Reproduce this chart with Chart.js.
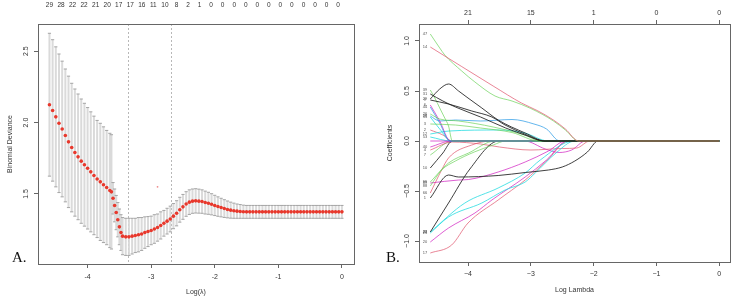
<!DOCTYPE html>
<html>
<head>
<meta charset="utf-8">
<script src="https://cdn.jsdelivr.net/npm/chart.js@4.4.0/dist/chart.umd.min.js"></script>
<style>
  body { margin: 0; background: #fff; width: 744px; height: 304px; position: relative; overflow: hidden; }
  canvas { position: absolute; top: 0; }
  #cvA { left: 0; }
  #cvB { left: 372px; }
  .tag { position: absolute; font: 15px "Liberation Serif", "DejaVu Serif", serif; line-height: 15px; color: #111; }
</style>
</head>
<body>
<canvas id="cvA" width="372" height="304"></canvas>
<canvas id="cvB" width="372" height="304"></canvas>
<div class="tag" style="left:12px;top:250px">A.</div>
<div class="tag" style="left:386px;top:250px">B.</div>
<script>
// ---- panel A: cross-validation curve ----
const logLambdaA = [
  -4.60, -4.55, -4.50, -4.45, -4.40, -4.35, -4.30, -4.25, -4.20, -4.15,
  -4.10, -4.05, -4.00, -3.95, -3.90, -3.85, -3.80, -3.75, -3.70, -3.65,
  -3.625, -3.60, -3.575, -3.55, -3.525, -3.50, -3.475, -3.45,
  -3.40, -3.35, -3.30, -3.25, -3.20, -3.15, -3.10, -3.05, -3.00, -2.95,
  -2.90, -2.85, -2.80, -2.75, -2.70, -2.65, -2.60, -2.55, -2.50, -2.45,
  -2.40, -2.35, -2.30, -2.25, -2.20, -2.15, -2.10, -2.05, -2.00, -1.95,
  -1.90, -1.85, -1.80, -1.75, -1.70, -1.65, -1.60, -1.55,
  -1.50, -1.45, -1.40, -1.35, -1.30, -1.25, -1.20, -1.15, -1.10, -1.05,
  -1.00, -0.95, -0.90, -0.85, -0.80, -0.75, -0.70, -0.65, -0.60, -0.55,
  -0.50, -0.45, -0.40, -0.35, -0.30, -0.25, -0.20, -0.15, -0.10, -0.05, 0.00
];
const cvMean = [
  2.125, 2.085, 2.04, 1.995, 1.955, 1.91, 1.865, 1.825, 1.79, 1.76,
  1.73, 1.705, 1.68, 1.655, 1.63, 1.605, 1.585, 1.565, 1.545, 1.525,
  1.515, 1.47, 1.42, 1.37, 1.32, 1.27, 1.23, 1.205,
  1.20, 1.20, 1.205, 1.21, 1.215, 1.22, 1.23, 1.237, 1.245, 1.255,
  1.265, 1.28, 1.295, 1.31, 1.325, 1.345, 1.365, 1.39, 1.41, 1.43,
  1.443, 1.45, 1.452, 1.45, 1.447, 1.44, 1.435, 1.428, 1.42, 1.412,
  1.405, 1.398, 1.392, 1.387, 1.383, 1.38, 1.378, 1.376,
  1.375, 1.375, 1.375, 1.375, 1.375, 1.375, 1.375, 1.375, 1.375, 1.375,
  1.375, 1.375, 1.375, 1.375, 1.375, 1.375, 1.375, 1.375, 1.375, 1.375,
  1.375, 1.375, 1.375, 1.375, 1.375, 1.375, 1.375, 1.375, 1.375, 1.375, 1.375
];
const cvSd = [
  0.50, 0.495, 0.49, 0.485, 0.475, 0.465, 0.46, 0.45, 0.445, 0.44,
  0.435, 0.43, 0.425, 0.42, 0.415, 0.41, 0.41, 0.405, 0.40, 0.40,
  0.40, 0.11, 0.115, 0.12, 0.12, 0.125, 0.125, 0.13,
  0.13, 0.13, 0.125, 0.12, 0.12, 0.115, 0.11, 0.105, 0.10, 0.10,
  0.095, 0.095, 0.09, 0.09, 0.09, 0.088, 0.088, 0.087, 0.087, 0.086,
  0.086, 0.085, 0.085, 0.084, 0.082, 0.08, 0.077, 0.074, 0.071, 0.068,
  0.065, 0.062, 0.059, 0.056, 0.053, 0.05, 0.048, 0.046,
  0.045, 0.045, 0.045, 0.045, 0.045, 0.045, 0.045, 0.045, 0.045, 0.045,
  0.045, 0.045, 0.045, 0.045, 0.045, 0.045, 0.045, 0.045, 0.045, 0.045,
  0.045, 0.045, 0.045, 0.045, 0.045, 0.045, 0.045, 0.045, 0.045, 0.045, 0.045
];
const nonzeroLabels = ['29', '28', '22', '22', '21', '20', '17', '17', '16', '11', '10', '8', '2', '1',
  '0', '0', '0', '0', '0', '0', '0', '0', '0', '0', '0', '0'];
const lambdaMin = -3.37;
const lambda1se = -2.69;
const strayPoint = [{ x: -2.9, y: 1.55 }];
const xTicks = [-4, -3, -2, -1, 0];
const yTicksA = [1.5, 2.0, 2.5];

// ---- panel B: coefficient paths ----
const topLabelsB = ['21', '15', '1', '0', '0'];
const yTicksB = [-1.0, -0.5, 0.0, 0.5, 1.0];
const coefPaths = [
  [[-4.6, 0.94], [-3.6, 0.55], [-3.15, 0.38], [-2.9, 0.305], [-2.64, 0.21], [-2.45, 0.12], [-2.24, 0], [0, 0]],
  [[-4.6, 1.07], [-4.45, 0.93], [-4.37, 0.86], [-4.1, 0.70], [-3.89, 0.59], [-3.57, 0.45], [-3.3, 0.40], [-3.0, 0.325], [-2.64, 0.2], [-2.45, 0.11], [-2.24, 0], [0, 0]],
  [[-4.6, 0.42], [-4.45, 0.52], [-4.31, 0.57], [-4.15, 0.50], [-4.0, 0.43], [-3.78, 0.33], [-3.52, 0.21], [-3.09, 0.08], [-2.77, 0], [0, 0]],
  [[-4.6, 0.47], [-4.4, 0.40], [-4.2, 0.34], [-3.8, 0.24], [-3.4, 0.13], [-3.05, 0.05], [-2.8, 0], [0, 0]],
  [[-4.6, 0.41], [-4.31, 0.37], [-3.94, 0.30], [-3.62, 0.24], [-3.41, 0.16], [-3.1, 0.07], [-2.78, 0], [0, 0]],
  [[-4.6, 0.51], [-4.52, 0.42], [-4.45, 0.33], [-4.37, 0.23], [-4.31, 0.15], [-4.25, 0], [0, 0]],
  [[-4.6, 0.17], [-4.2, 0.16], [-3.8, 0.13], [-3.3, 0.085], [-2.87, 0], [0, 0]],
  [[-4.6, 0.27], [-4.45, 0.22], [-4.15, 0.20], [-3.6, 0.14], [-3.1, 0.06], [-2.85, 0], [0, 0]],
  [[-4.6, 0.34], [-4.45, 0.18], [-4.29, 0], [0, 0]],
  [[-4.6, 0.36], [-4.45, 0.2], [-4.28, 0], [0, 0]],
  [[-4.6, 0.24], [-4.45, 0.12], [-4.27, 0], [0, 0]],
  [[-4.6, 0.25], [-4.45, 0.20], [-4.2, 0.21], [-3.8, 0.20], [-3.3, 0.215], [-2.95, 0.17], [-2.75, 0.12], [-2.54, 0], [0, 0]],
  [[-4.6, 0.07], [-4.3, 0.10], [-3.5, 0.11], [-3.1, 0.08], [-2.72, 0], [0, 0]],
  [[-4.6, 0.11], [-4.4, 0.06], [-4.25, 0], [0, 0]],
  [[-4.6, -0.06], [-4.26, 0], [0, 0]],
  [[-4.6, -0.27], [-4.4, -0.12], [-4.25, 0], [0, 0]],
  [[-4.6, -0.41], [-4.31, -0.22], [-3.99, -0.12], [-3.57, 0], [0, 0]],
  [[-4.6, -0.45], [-4.42, -0.29], [-4.2, -0.2], [-3.9, -0.11], [-3.6, -0.04], [-3.4, 0], [0, 0]],
  [[-4.6, -0.52], [-4.42, -0.29], [-4.31, -0.17], [-3.94, -0.04], [-3.62, 0], [0, 0]],
  [[-4.6, -0.91], [-4.31, -0.62], [-3.97, -0.28], [-3.51, 0], [0, 0]],
  [[-4.6, -0.57], [-4.31, -0.34], [-4.15, -0.36], [-3.52, -0.345], [-3.09, -0.315], [-2.72, -0.29], [-2.5, -0.26], [-2.3, -0.2], [-2.1, -0.11], [-1.93, 0], [0, 0]],
  [[-4.6, -0.42], [-4.15, -0.39], [-3.99, -0.385], [-3.52, -0.31], [-3.09, -0.21], [-2.72, -0.1], [-2.45, 0], [0, 0]],
  [[-4.6, -0.91], [-4.05, -0.62], [-3.52, -0.47], [-3.09, -0.32], [-2.85, -0.19], [-2.32, 0], [0, 0]],
  [[-4.6, -0.92], [-4.31, -0.76], [-3.78, -0.62], [-3.41, -0.49], [-3.09, -0.41], [-2.93, -0.32], [-2.6, -0.12], [-2.3, 0], [0, 0]],
  [[-4.6, -1.01], [-4.31, -0.87], [-3.89, -0.72], [-3.62, -0.59], [-3.09, -0.36], [-2.75, -0.19], [-2.42, 0], [0, 0]],
  [[-4.6, -1.12], [-4.26, -1.04], [-4.0, -0.82], [-3.52, -0.59], [-3.09, -0.39], [-2.75, -0.2], [-2.4, 0], [0, 0]],
  [[-4.6, -0.09], [-4.25, -0.01], [-3.8, -0.03], [-3.5, -0.06], [-3.0, -0.09], [-2.5, -0.075], [-2.27, -0.07], [-2.06, 0], [0, 0]],
  [[-4.6, 0], [-3.1, 0], [-2.77, -0.08], [-2.55, -0.115], [-2.35, -0.09], [-2.13, 0], [0, 0]],
  [[-4.6, -0.14], [-4.25, 0], [0, 0]],
  [[-4.6, 0.04], [-4.27, 0], [0, 0]]
];
const pathLabels = ['14', '47', '29', '31', '9', '39', '3', '26', '44', '6', '35', '28', '12', '2', '40',
  '10', '99', '88', '66', '23', '1', '89', '22', '25', '20', '17', '4', '', '7', '53'];

// R-like palette, a bit washed out like the scan
const BLACK = 'rgba(30,30,30,0.85)';
const PINK = 'rgba(223,83,107,0.7)';
const GREEN = 'rgba(97,208,79,0.65)';
const BLUE = 'rgba(34,151,230,0.7)';
const CYAN = 'rgba(40,220,225,0.8)';
const MAGENTA = 'rgba(205,11,188,0.65)';
const pathColors = [PINK, GREEN, BLACK, BLACK, BLACK, GREEN, GREEN, GREEN, BLUE, MAGENTA, CYAN, BLUE, CYAN, PINK, MAGENTA,
  BLACK, GREEN, GREEN, PINK, BLACK, BLACK, MAGENTA, CYAN, CYAN, MAGENTA, PINK, PINK, MAGENTA, GREEN, CYAN];

const FONT = '"Liberation Sans", Arial, Helvetica, sans-serif';
Chart.defaults.color = '#333';
Chart.defaults.font.family = FONT;

const minusSign = (v, m) => (v < 0 ? m + Math.abs(v) : String(v));

// box round the plot + rotated y tick labels (R style)
const frame = {
  id: 'frame',
  afterDraw(chart, args, opts) {
    const { ctx, chartArea: a, scales: { y } } = chart;
    ctx.save();
    ctx.strokeStyle = '#666';
    ctx.lineWidth = 1;
    ctx.strokeRect(Math.round(a.left) + 0.5, Math.round(a.top) + 0.5, Math.round(a.width), Math.round(a.height));
    ctx.fillStyle = '#333';
    ctx.font = '7px ' + FONT;
    ctx.textAlign = 'center';
    ctx.textBaseline = 'middle';
    y.ticks.forEach(t => {
      const py = y.getPixelForValue(t.value);
      ctx.save();
      ctx.translate(opts.labelX, py);
      ctx.rotate(-Math.PI / 2);
      const txt = t.value.toFixed(1);
      ctx.fillText(t.value < 0 ? opts.minus + txt.slice(1) : txt, 0, 0);
      ctx.restore();
    });
    ctx.restore();
  }
};

// cv error bars and the two lambda lines
const errorBars = {
  id: 'errorBars',
  beforeDatasetsDraw(chart) {
    const { ctx, chartArea: a, scales: { x, y } } = chart;
    ctx.save();
    ctx.beginPath();
    ctx.rect(a.left, a.top, a.width, a.height);
    ctx.clip();
    ctx.lineWidth = 1;
    ctx.strokeStyle = '#b8b8b8';
    ctx.setLineDash([2, 2]);
    [lambdaMin, lambda1se].forEach(v => {
      const px = Math.round(x.getPixelForValue(v)) + 0.5;
      ctx.beginPath();
      ctx.moveTo(px, a.top);
      ctx.lineTo(px, a.bottom);
      ctx.stroke();
    });
    ctx.setLineDash([]);
    logLambdaA.forEach((v, i) => {
      const px = x.getPixelForValue(v);
      const hi = y.getPixelForValue(cvMean[i] + cvSd[i]);
      const lo = y.getPixelForValue(cvMean[i] - cvSd[i]);
      ctx.lineWidth = 2;
      ctx.strokeStyle = 'rgba(214,214,214,0.9)';
      ctx.beginPath();
      ctx.moveTo(px, hi);
      ctx.lineTo(px, lo);
      ctx.stroke();
      ctx.lineWidth = 1;
      ctx.strokeStyle = '#a5a5a5';
      ctx.beginPath();
      ctx.moveTo(px - 1.6, hi); ctx.lineTo(px + 1.6, hi);
      ctx.moveTo(px - 1.6, lo); ctx.lineTo(px + 1.6, lo);
      ctx.stroke();
    });
    ctx.restore();
  }
};

// tiny variable numbers at the start of each path
const startLabels = {
  id: 'startLabels',
  afterDatasetsDraw(chart) {
    const { ctx, scales: { x, y } } = chart;
    ctx.save();
    ctx.fillStyle = '#555';
    ctx.font = '4px ' + FONT;
    ctx.textAlign = 'center';
    ctx.textBaseline = 'middle';
    const px = x.getPixelForValue(-4.685);
    coefPaths.forEach((p, i) => {
      if (pathLabels[i]) ctx.fillText(pathLabels[i], px, y.getPixelForValue(p[0][1]));
    });
    ctx.restore();
  }
};

const tickFont = { size: 7, family: FONT };
const gridTicks = { drawOnChartArea: false, drawTicks: true, tickLength: 4, color: '#666' };

new Chart(document.getElementById('cvA'), {
  type: 'scatter',
  data: {
    datasets: [
      {
        data: logLambdaA.map((v, i) => ({ x: v, y: cvMean[i] })),
        pointRadius: 1.8,
        pointBackgroundColor: '#e8382c',
        pointBorderWidth: 0
      },
      {
        data: strayPoint,
        pointRadius: 0.9,
        pointBackgroundColor: '#ee8a8a',
        pointBorderWidth: 0
      }
    ]
  },
  options: {
    responsive: false,
    animation: false,
    events: [],
    layout: { padding: { left: 0, right: 18, top: 0, bottom: 0 } },
    plugins: {
      legend: { display: false },
      tooltip: { enabled: false },
      frame: { labelX: 26, minus: '-' }
    },
    scales: {
      x: {
        type: 'linear', position: 'bottom', min: -4.78, max: 0.19,
        afterBuildTicks: s => { s.ticks = xTicks.map(v => ({ value: v })); },
        afterFit: s => { s.height = 40; },
        grid: gridTicks,
        border: { display: false },
        ticks: { font: tickFont, padding: 5, maxRotation: 0, autoSkip: false, callback: v => minusSign(v, '-') },
        title: { display: true, text: 'Log(λ)', font: tickFont, padding: { top: 0, bottom: 8 } }
      },
      xTop: {
        type: 'linear', position: 'top', min: -4.78, max: 0.19,
        afterBuildTicks: s => { s.ticks = nonzeroLabels.map((_, i) => ({ value: -4.6 + i * 4.54 / 25 })); },
        afterFit: s => { s.height = 24; },
        grid: { display: false },
        border: { display: false },
        ticks: { font: { size: 6.5, family: FONT }, padding: 7, maxRotation: 0, autoSkip: false, callback: (v, i) => nonzeroLabels[i] }
      },
      y: {
        type: 'linear', min: 1.01, max: 2.69,
        afterBuildTicks: s => { s.ticks = yTicksA.map(v => ({ value: v })); },
        afterFit: s => { s.width = 38; },
        grid: gridTicks,
        border: { display: false },
        ticks: { display: false },
        title: { display: true, text: 'Binomial Deviance', font: tickFont, padding: { top: 6, bottom: 0 } }
      }
    }
  },
  plugins: [errorBars, frame]
});

new Chart(document.getElementById('cvB'), {
  type: 'line',
  data: {
    datasets: coefPaths.map((p, i) => ({
      data: p.map(([x, y]) => ({ x, y })),
      borderColor: pathColors[i],
      borderWidth: 1,
      pointRadius: 0,
      fill: false,
      cubicInterpolationMode: 'monotone'
    }))
  },
  options: {
    responsive: false,
    animation: false,
    events: [],
    layout: { padding: { left: 0, right: 14, top: 0, bottom: 0 } },
    plugins: {
      legend: { display: false },
      tooltip: { enabled: false },
      frame: { labelX: 35, minus: '\u2212' }
    },
    scales: {
      x: {
        type: 'linear', position: 'bottom', min: -4.78, max: 0.17,
        afterBuildTicks: s => { s.ticks = xTicks.map(v => ({ value: v })); },
        afterFit: s => { s.height = 42; },
        grid: gridTicks,
        border: { display: false },
        ticks: { font: tickFont, padding: 4, maxRotation: 0, autoSkip: false, callback: v => minusSign(v, '\u2212') },
        title: { display: true, text: 'Log Lambda', font: tickFont, padding: { top: 0, bottom: 10 } }
      },
      xTop: {
        type: 'linear', position: 'top', min: -4.78, max: 0.17,
        afterBuildTicks: s => { s.ticks = xTicks.map(v => ({ value: v })); },
        afterFit: s => { s.height = 24; },
        grid: gridTicks,
        border: { display: false },
        ticks: { font: tickFont, padding: 3, maxRotation: 0, autoSkip: false, callback: (v, i) => topLabelsB[i] }
      },
      y: {
        type: 'linear', min: -1.21, max: 1.17,
        afterBuildTicks: s => { s.ticks = yTicksB.map(v => ({ value: v })); },
        afterFit: s => { s.width = 47; },
        grid: gridTicks,
        border: { display: false },
        ticks: { display: false },
        title: { display: true, text: 'Coefficients', font: tickFont, padding: { top: 14, bottom: 0 } }
      }
    }
  },
  plugins: [startLabels, frame]
});
</script>
</body>
</html>
